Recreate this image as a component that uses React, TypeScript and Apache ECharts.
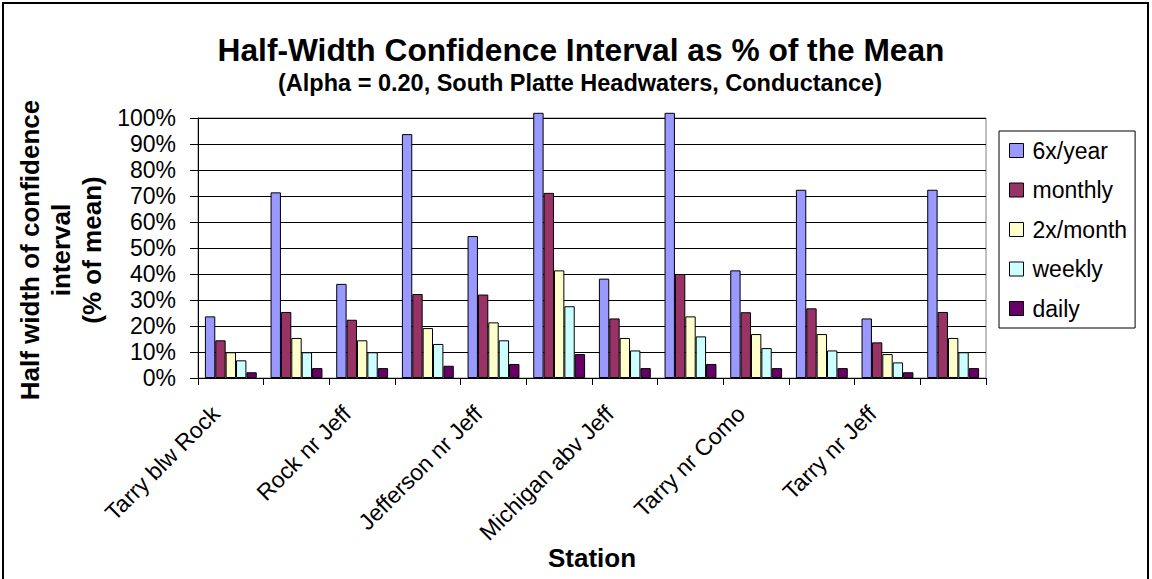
import React, { useEffect, useRef } from "react";
import * as echarts from "echarts";

const categories = [
  "Tarry blw Rock", "",
  "Rock nr Jeff", "",
  "Jefferson nr Jeff", "",
  "Michigan abv Jeff", "",
  "Tarry nr Como", "",
  "Tarry nr Jeff", "",
];

const seriesNames = ["6x/year", "monthly", "2x/month", "weekly", "daily"];

const sixPerYear = [23.7, 71.4, 36.2, 93.8, 54.6, 102, 38.2, 102, 41.4, 72.4, 22.9, 72.4];
const monthly = [14.5, 25.4, 22.4, 32.3, 32.1, 71.2, 22.9, 40.0, 25.3, 26.8, 13.7, 25.4];
const twicePerMonth = [9.9, 15.4, 14.5, 19.2, 21.4, 41.4, 15.4, 23.7, 16.9, 16.9, 9.2, 15.4];
const weekly = [6.8, 9.9, 9.9, 13.1, 14.5, 27.6, 10.6, 16.0, 11.5, 10.6, 6.0, 9.9];
const daily = [2.2, 3.8, 3.8, 4.7, 5.4, 9.2, 3.8, 5.4, 3.8, 3.8, 2.2, 3.8];

const seriesValues = [sixPerYear, monthly, twicePerMonth, weekly, daily];
const seriesColors = ["#9999FF", "#993366", "#FFFFCC", "#CCFFFF", "#660066"];

const titleText = "Half-Width Confidence Interval as % of the Mean";
const subtitleText = "(Alpha = 0.20, South Platte Headwaters, Conductance)";
const yAxisTitle = "Half width of confidence\ninterval\n(% of mean)";
const xAxisTitle = "Station";

const FONT = "'Liberation Sans', Arial, Helvetica, sans-serif";

export default function App() {
  const ref = useRef<HTMLDivElement>(null);

  useEffect(() => {
    if (!ref.current) return;
    const chart = echarts.init(ref.current, undefined, { renderer: "svg" });
    const option: any = {
      animation: false,
      backgroundColor: "#ffffff",
      textStyle: { fontFamily: FONT, color: "#000" },
      grid: {
        left: 198,
        top: 118,
        width: 788,
        height: 260,
        show: true,
        borderColor: "#808080",
        borderWidth: 1,
        backgroundColor: "#ffffff",
        containLabel: false,
      },
      legend: {
        orient: "vertical",
        left: 999,
        top: 131,
        padding: [8, 8, 8, 10],
        itemWidth: 14,
        itemHeight: 14,
        itemGap: 16.5,
        borderColor: "#000",
        borderWidth: 1,
        backgroundColor: "#fff",
        icon: "rect",
        itemStyle: { borderColor: "#000", borderWidth: 1 },
        textStyle: {
          fontFamily: FONT,
          fontSize: 23,
          lineHeight: 23,
          color: "#000",
          padding: [0, 0, 0, 4],
        },
        data: seriesNames,
      },
      xAxis: {
        type: "category",
        data: categories,
        boundaryGap: true,
        axisLine: { show: true, lineStyle: { color: "#000", width: 1 } },
        axisTick: { show: true, interval: 0, length: 7, lineStyle: { color: "#000" } },
        axisLabel: {
          interval: 0,
          rotate: 45,
          margin: 47,
          verticalAlign: "bottom",
          fontFamily: FONT,
          fontSize: 23,
          lineHeight: 43,
          color: "#000",
        },
        splitLine: { show: false },
      },
      yAxis: {
        type: "value",
        min: 0,
        max: 100,
        interval: 10,
        axisLine: { show: true, lineStyle: { color: "#000", width: 1 } },
        axisTick: { show: true, length: 8, lineStyle: { color: "#000" } },
        axisLabel: {
          formatter: "{value}%",
          margin: 22,
          fontFamily: FONT,
          fontSize: 23,
          color: "#000",
        },
        splitLine: { show: true, lineStyle: { color: "#000", width: 1 } },
      },
      series: seriesNames.map((name, i) => ({
        name,
        type: "bar",
        data: seriesValues[i],
        barGap: "0%",
        barCategoryGap: "21%",
        clip: false,
        itemStyle: { color: seriesColors[i], borderColor: "#000", borderWidth: 1 },
        emphasis: { disabled: true },
      })),
      graphic: [
        {
          type: "rect",
          shape: { x: 3, y: 3, width: 1145, height: 580 },
          style: { fill: "none", stroke: "#000", lineWidth: 2 },
          silent: true,
          z: 100,
        },
        {
          type: "text",
          x: 581,
          y: 50,
          style: {
            text: titleText,
            fontFamily: FONT,
            fontSize: 31.7,
            fontWeight: "bold",
            fill: "#000",
            align: "center",
            verticalAlign: "middle",
          },
        },
        {
          type: "text",
          x: 580,
          y: 83,
          style: {
            text: subtitleText,
            fontFamily: FONT,
            fontSize: 23.5,
            fontWeight: "bold",
            fill: "#000",
            align: "center",
            verticalAlign: "middle",
          },
        },
        {
          type: "text",
          x: 61,
          y: 250,
          rotation: Math.PI / 2,
          style: {
            text: yAxisTitle,
            fontFamily: FONT,
            fontSize: 26,
            lineHeight: 31,
            fontWeight: "bold",
            fill: "#000",
            align: "center",
            verticalAlign: "middle",
          },
        },
        {
          type: "text",
          x: 592,
          y: 558,
          style: {
            text: xAxisTitle,
            fontFamily: FONT,
            fontSize: 26,
            fontWeight: "bold",
            fill: "#000",
            align: "center",
            verticalAlign: "middle",
          },
        },
      ],
    };
    chart.setOption(option);
    return () => {
      chart.dispose();
    };
  }, []);

  return (
    <div
      ref={ref}
      style={{ position: "absolute", left: 0, top: 0, width: 1152, height: 579 }}
    />
  );
}
